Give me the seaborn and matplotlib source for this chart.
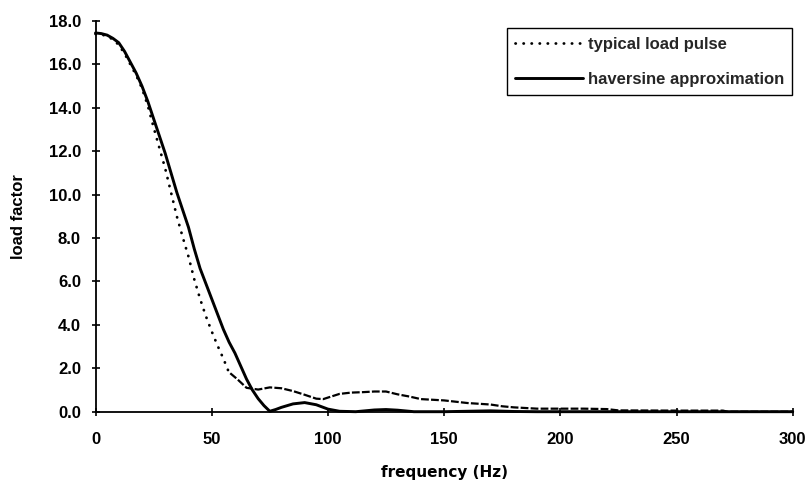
import numpy as np
import pandas as pd
import matplotlib
matplotlib.use("Agg")
import matplotlib.pyplot as plt
import seaborn as sns

# ---- data ----
freq_pulse = [0, 2.5, 5, 7.5, 10, 12.5, 15, 17.5, 20, 22.5, 25, 27.5, 30, 32.5, 35,
              37.5, 40, 42.5, 45, 47.5, 50, 52.5, 55, 57,
              58, 61, 65, 70, 75, 80, 85, 90, 95, 98, 100, 105, 110, 115, 120,
              125, 130, 135, 140, 145, 150, 160, 170, 175, 180, 190, 200,
              210, 220, 225, 250, 270, 272, 300]
load_pulse = [17.4, 17.38, 17.3, 17.15, 16.9, 16.5, 16.0, 15.5, 14.9, 14.1, 13.1, 12.15, 11.2, 10.1, 9.0,
              8.05, 7.15, 6.1, 5.2, 4.4, 3.7, 3.05, 2.45, 1.92,
              1.77, 1.5, 1.1, 1.02, 1.12, 1.08, 0.95, 0.78, 0.6, 0.58, 0.65, 0.82, 0.88, 0.9, 0.93,
              0.93, 0.8, 0.7, 0.58, 0.55, 0.52, 0.4, 0.33, 0.25, 0.2, 0.14, 0.14,
              0.14, 0.12, 0.06, 0.05, 0.05, 0.0, 0.0]

freq_haver = [0, 2.5, 5, 7.5, 10, 12.5, 15, 17.5, 20, 22.5, 25, 27.5, 30, 32.5, 35,
              37.5, 40, 42.5, 45, 47.5, 50, 52.5, 55, 57.5, 60, 62.5, 65, 67.5, 70,
              72.5, 75, 77.5, 80, 85, 90, 95, 100, 105, 112, 117, 120, 125, 130, 137,
              150, 160, 170, 180, 190, 300]
load_haver = [17.45, 17.42, 17.35, 17.2, 17.0, 16.6, 16.1, 15.6, 15.0, 14.3, 13.5, 12.7, 11.9, 11.0, 10.1,
              9.3, 8.5, 7.5, 6.6, 5.9, 5.2, 4.5, 3.8, 3.2, 2.7, 2.1, 1.5, 1.0, 0.6,
              0.28, 0.02, 0.1, 0.2, 0.36, 0.42, 0.32, 0.12, 0.02, 0.0, 0.05, 0.08, 0.1, 0.07, 0.0,
              0.0, 0.02, 0.04, 0.01, 0.0, 0.0]

x_ticks = [0, 50, 100, 150, 200, 250, 300]
y_ticks = [0, 2, 4, 6, 8, 10, 12, 14, 16, 18]

label_pulse = "typical load pulse"
label_haver = "haversine approximation"

# ---- styling ----
sns.set_style("ticks")
plt.rcParams["font.family"] = ["Liberation Sans", "DejaVu Sans"]
plt.rcParams["font.weight"] = "bold"

fig = plt.figure(figsize=(8.07, 4.84), dpi=100)
ax = fig.add_axes([95.5 / 807, (484 - 411.7) / 484, (792.7 - 95.5) / 807, (411.7 - 21) / 484])

df_pulse = pd.DataFrame({"freq": freq_pulse, "load": load_pulse})
df_haver = pd.DataFrame({"freq": freq_haver, "load": load_haver})
head = df_pulse[df_pulse["freq"] <= 57]
tail = df_pulse[df_pulse["freq"] >= 58]

sns.lineplot(data=head, x="freq", y="load", ax=ax, color="black", lw=2.0,
             label=label_pulse, sort=False, clip_on=False,
             linestyle=(0, (0.1, 2.8)), dash_capstyle="round")
sns.lineplot(data=tail, x="freq", y="load", ax=ax, color="black", lw=1.6,
             label="_nolegend_", sort=False, clip_on=False,
             linestyle=(0, (3.5, 1.0)))
sns.lineplot(data=df_haver, x="freq", y="load", ax=ax, color="black", lw=2.1,
             label=label_haver, sort=False, clip_on=False)

ax.set_xlim(0, 300)
ax.set_ylim(0, 18)
ax.set_xticks(x_ticks)
ax.set_xticklabels([str(v) for v in x_ticks])
ax.set_yticks(y_ticks)
ax.set_yticklabels([f"{v:.1f}" for v in y_ticks])

for s in ["top", "right"]:
    ax.spines[s].set_visible(False)
for s in ["left", "bottom"]:
    ax.spines[s].set_color("black")
    ax.spines[s].set_linewidth(1.3)

ax.tick_params(axis="both", which="major", direction="inout", length=6, width=1.2,
               color="black", labelsize=12, labelcolor="black",
               bottom=True, left=True, top=False, right=False)
ax.tick_params(axis="y", pad=7.5)
ax.tick_params(axis="x", pad=11.5)
for t in ax.get_xticklabels() + ax.get_yticklabels():
    t.set_fontweight("bold")

ax.set_xlabel("frequency (Hz)", fontsize=11, fontweight="bold",
              family=["DejaVu Sans"], labelpad=13, color="black")
ax.set_ylabel("load factor", fontsize=12, fontweight="bold",
              color="black", labelpad=16)

leg = ax.legend(loc="upper left", bbox_to_anchor=(506.7 / 807, 1 - 28.3 / 484),
                bbox_transform=fig.transFigure, frameon=True, fancybox=False,
                shadow=False, borderaxespad=0, borderpad=0.5, handlelength=4.1,
                handletextpad=0.25, labelspacing=1.2,
                prop={"family": "Liberation Sans", "weight": "bold", "size": 12})
leg.get_frame().set_edgecolor("black")
leg.get_frame().set_linewidth(1.0)
leg.get_frame().set_facecolor("white")
leg.get_frame().set_alpha(1)

fig.savefig("out.png", dpi=100)
